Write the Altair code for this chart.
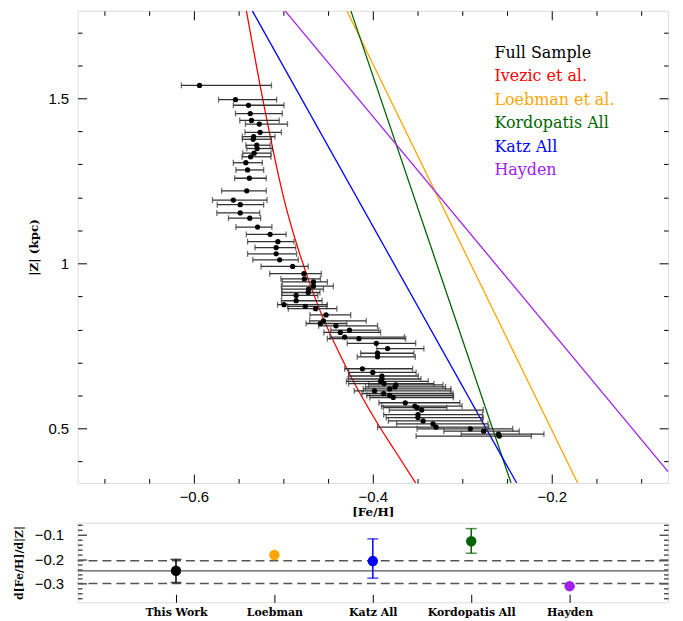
import altair as alt
import pandas as pd

# ---------------- data: Full Sample (top panel) ----------------
feh = [-0.5937, -0.5535, -0.5390, -0.5370, -0.5356, -0.5269, -0.5259, -0.5332, -0.5337, -0.5298,
       -0.5293, -0.5327, -0.5366, -0.5419, -0.5400, -0.5380, -0.5409, -0.5559, -0.5482, -0.5482,
       -0.5375, -0.5288, -0.5148, -0.5061, -0.5080, -0.5080, -0.5041, -0.4896, -0.4770, -0.4765,
       -0.4663, -0.4663, -0.4717, -0.4722, -0.4857, -0.4857, -0.4993, -0.4755, -0.4639, -0.4523,
       -0.4552, -0.4586, -0.4412, -0.4261, -0.4363, -0.4315, -0.4155, -0.3961, -0.3835, -0.3947,
       -0.3947, -0.4116, -0.4000, -0.3898, -0.3898, -0.3913, -0.3874, -0.3743, -0.3753, -0.3811,
       -0.3981, -0.3879, -0.3811, -0.3772, -0.3637, -0.3530, -0.3506, -0.3453, -0.3496, -0.3496,
       -0.3438, -0.3327, -0.3293, -0.2910, -0.2760, -0.2596, -0.2586]
z = [1.539, 1.496, 1.479, 1.454, 1.433, 1.422, 1.397, 1.384, 1.376, 1.358,
     1.348, 1.334, 1.323, 1.305, 1.283, 1.258, 1.220, 1.192, 1.178, 1.153,
     1.137, 1.110, 1.088, 1.066, 1.048, 1.029, 1.011, 0.991, 0.969, 0.953,
     0.944, 0.931, 0.922, 0.912, 0.903, 0.887, 0.875, 0.870, 0.863, 0.844,
     0.826, 0.818, 0.811, 0.798, 0.791, 0.777, 0.772, 0.758, 0.742, 0.728,
     0.717, 0.681, 0.670, 0.659, 0.650, 0.643, 0.636, 0.632, 0.626, 0.620,
     0.614, 0.606, 0.600, 0.594, 0.578, 0.568, 0.563, 0.556, 0.542, 0.533,
     0.523, 0.514, 0.504, 0.499, 0.492, 0.483, 0.477]
feh_lo = [-0.6140, -0.5724, -0.5559, -0.5535, -0.5487, -0.5424, -0.5429, -0.5458, -0.5458, -0.5419,
          -0.5409, -0.5453, -0.5462, -0.5559, -0.5530, -0.5545, -0.5690, -0.5792, -0.5739, -0.5743,
          -0.5613, -0.5530, -0.5414, -0.5400, -0.5317, -0.5400, -0.5341, -0.5249, -0.5153, -0.5027,
          -0.5012, -0.5022, -0.5017, -0.5017, -0.5017, -0.5022, -0.5065, -0.4954, -0.4944, -0.4702,
          -0.4707, -0.4746, -0.4605, -0.4470, -0.4547, -0.4479, -0.4508, -0.4286, -0.3956, -0.4136,
          -0.4174, -0.4315, -0.4271, -0.4271, -0.4276, -0.4295, -0.4271, -0.4048, -0.4082, -0.4107,
          -0.4208, -0.4121, -0.4068, -0.4034, -0.3932, -0.3903, -0.3884, -0.3816, -0.3879, -0.3850,
          -0.3826, -0.3734, -0.3947, -0.3506, -0.3206, -0.3012, -0.3516]
feh_hi = [-0.5133, -0.5075, -0.4993, -0.5012, -0.5046, -0.4954, -0.5022, -0.5094, -0.5133, -0.5148,
          -0.5123, -0.5138, -0.5138, -0.5235, -0.5220, -0.5191, -0.5191, -0.5182, -0.5220, -0.5264,
          -0.5254, -0.5128, -0.4969, -0.4881, -0.4862, -0.4852, -0.4833, -0.4722, -0.4576, -0.4586,
          -0.4508, -0.4441, -0.4552, -0.4591, -0.4615, -0.4567, -0.4508, -0.4518, -0.4402, -0.4247,
          -0.4073, -0.4291, -0.3947, -0.3932, -0.3913, -0.3647, -0.3632, -0.3521, -0.3429, -0.3540,
          -0.3525, -0.3555, -0.3516, -0.3492, -0.3462, -0.3380, -0.3317, -0.3216, -0.3186, -0.3128,
          -0.3128, -0.3104, -0.3099, -0.3099, -0.3027, -0.3002, -0.3172, -0.2765, -0.2775, -0.2765,
          -0.2775, -0.2712, -0.2702, -0.2436, -0.2363, -0.2087, -0.2228]

# ---------------- model relations (top panel) ----------------
ivezic_z = [1.765, 1.486, 1.185, 1.034, 0.8835, 0.703, 0.513, 0.4334, 0.335]
ivezic_feh = [-0.5413, -0.5222, -0.4984, -0.4823, -0.4629, -0.4330, -0.3942, -0.3754, -0.3521]
loebman_z = [1.765, 0.335]
loebman_feh = [-0.4290, -0.171]
kordopatis_z = [1.765, 0.335]
kordopatis_feh = [-0.4245, -0.2455]
katz_z = [1.765, 0.335]
katz_feh = [-0.5347, -0.2392]
hayden_z = [1.765, 0.3695]
hayden_feh = [-0.4980, -0.070]

legend_labels = ["Full Sample", "Ivezic et al.", "Loebman et al.", "Kordopatis All", "Katz All", "Hayden"]
legend_colors = ["#000000", "#FF0000", "#FFA500", "#006400", "#0000FF", "#A020F0"]

# ---------------- gradients (bottom panel) ----------------
grad_names = ["This Work", "Loebman", "Katz All", "Kordopatis All", "Hayden"]
grad_val = [-0.247, -0.182, -0.207, -0.126, -0.310]
grad_lo = [-0.295, None, -0.277, -0.175, None]
grad_hi = [-0.200, None, -0.116, -0.074, None]
grad_colors = ["#000000", "#FFA500", "#0000FF", "#006400", "#A020F0"]
mean_grad = [-0.247]
band_grad = [-0.206, -0.299]

# tick values
x_major = [-0.6, -0.4, -0.2]
x_all = [-0.7, -0.65, -0.6, -0.55, -0.5, -0.45, -0.4, -0.35, -0.3, -0.25, -0.2, -0.15, -0.1]
y_major = [0.5, 1.0, 1.5]
y_all = [0.4, 0.5, 0.6, 0.7, 0.8, 0.9, 1.0, 1.1, 1.2, 1.3, 1.4, 1.5, 1.6, 1.7]
yb_major = [-0.1, -0.2, -0.3]
yb_all = [-0.06, -0.08, -0.1, -0.12, -0.14, -0.16, -0.18, -0.2, -0.22, -0.24, -0.26, -0.28,
          -0.3, -0.32, -0.34, -0.36]

# ---------------- tables ----------------
pts = pd.DataFrame({"feh": feh, "z": z, "lo": feh_lo, "hi": feh_hi})

rows = []
for name, zz, ff in [("Ivezic et al.", ivezic_z, ivezic_feh), ("Loebman et al.", loebman_z, loebman_feh),
                     ("Kordopatis All", kordopatis_z, kordopatis_feh), ("Katz All", katz_z, katz_feh),
                     ("Hayden", hayden_z, hayden_feh)]:
    for i, (a, b) in enumerate(zip(zz, ff)):
        rows.append({"model": name, "z": a, "feh": b, "i": i})
lines = pd.DataFrame(rows)

leg_x = -0.264
leg_y0 = 1.638
leg_dy = 0.0713
leg = pd.DataFrame({"label": legend_labels,
                    "x": [leg_x] * len(legend_labels),
                    "y": [leg_y0 - k * leg_dy for k in range(len(legend_labels))]})

grad = pd.DataFrame({"name": grad_names, "v": grad_val, "lo": grad_lo, "hi": grad_hi})
grad_err = grad.dropna()

W, H = 594, 475
Hb = 80

xs = alt.Scale(domain=[-0.73, -0.07], nice=False, zero=False)
ys = alt.Scale(domain=[0.335, 1.765], nice=False, zero=False)
cs = alt.Scale(domain=legend_labels, range=legend_colors)

LABEL_FONT = "Liberation Sans"
TITLE_FONT = "DejaVu Serif"

cond_x = {"condition": {"test": "abs(datum.value*5 - round(datum.value*5)) < 0.000001", "value": 9}, "value": 4.5}
cond_y = {"condition": {"test": "abs(datum.value*2 - round(datum.value*2)) < 0.000001", "value": 9}, "value": 4.5}
cond_yb = {"condition": {"test": "abs(datum.value*10 - round(datum.value*10)) < 0.000001", "value": 9}, "value": 4.5}


def tick_axis(orient, offset, values, size):
    return alt.Axis(orient=orient, offset=offset, values=values, labels=False, domain=False,
                    grid=False, title=None, tickSize=size, tickColor="black", tickWidth=1)


main_x = alt.Axis(orient="bottom", values=x_major, format="~g", ticks=False, domain=False, grid=False,
                  labelFont=LABEL_FONT, labelFontSize=15, labelPadding=7, labelColor="black",
                  title="[Fe/H]", titleFont=TITLE_FONT, titleFontSize=12, titleFontWeight="bold",
                  titlePadding=2, titleColor="black")
main_y = alt.Axis(orient="left", values=y_major, format="~g", ticks=False, domain=False, grid=False,
                  labelFont=LABEL_FONT, labelFontSize=15, labelPadding=9, labelColor="black",
                  title="|Z| (kpc)", titleFont=TITLE_FONT, titleFontSize=12, titleFontWeight="bold",
                  titlePadding=7, titleColor="black")

model_lines = alt.Chart(lines).mark_line(strokeWidth=1.3, clip=True, interpolate="monotone").encode(
    x=alt.X("feh:Q", scale=xs, axis=main_x),
    y=alt.Y("z:Q", scale=ys, axis=main_y),
    color=alt.Color("model:N", scale=cs, legend=None),
    order=alt.Order("i:Q"),
    detail="model:N",
)

err = alt.Chart(pts).mark_rule(color="#333333", strokeWidth=1.3).encode(
    x=alt.X("lo:Q", scale=xs, axis=None),
    x2="hi:Q",
    y=alt.Y("z:Q", scale=ys, axis=None),
)
cap_lo = alt.Chart(pts).mark_tick(orient="vertical", size=6, thickness=1.3, color="#333333").encode(
    x=alt.X("lo:Q", scale=xs, axis=None),
    y=alt.Y("z:Q", scale=ys, axis=None),
)
cap_hi = alt.Chart(pts).mark_tick(orient="vertical", size=6, thickness=1.3, color="#333333").encode(
    x=alt.X("hi:Q", scale=xs, axis=None),
    y=alt.Y("z:Q", scale=ys, axis=None),
)
dots = alt.Chart(pts).mark_circle(size=28, color="black", opacity=1).encode(
    x=alt.X("feh:Q", scale=xs, axis=None),
    y=alt.Y("z:Q", scale=ys, axis=None),
)
legend_text = alt.Chart(leg).mark_text(align="left", baseline="middle", font=TITLE_FONT, fontSize=16).encode(
    x=alt.X("x:Q", scale=xs, axis=None),
    y=alt.Y("y:Q", scale=ys, axis=None),
    color=alt.Color("label:N", scale=cs, legend=None),
    text="label:N",
)
ticks_a = alt.Chart(pts).mark_point(opacity=0).encode(
    x=alt.X("feh:Q", scale=xs, axis=tick_axis("top", -H, x_all, cond_x)),
    y=alt.Y("z:Q", scale=ys, axis=tick_axis("right", -W, y_all, cond_y)),
)
ticks_b = alt.Chart(pts).mark_point(opacity=0).encode(
    x=alt.X("feh:Q", scale=xs, axis=tick_axis("bottom", -H, x_all, cond_x)),
    y=alt.Y("z:Q", scale=ys, axis=tick_axis("left", -W, y_all, cond_y)),
)

top = alt.layer(model_lines, err, cap_lo, cap_hi, dots, legend_text, ticks_a, ticks_b).resolve_axis(
    x="independent", y="independent").properties(width=W, height=H)

# ---------------- bottom panel ----------------
yb = alt.Scale(domain=[-0.376, -0.05], nice=False, zero=False)
xb = alt.Scale(type="point", domain=grad_names, padding=1)
gc = alt.Scale(domain=grad_names, range=grad_colors)

main_xb = alt.Axis(orient="bottom", ticks=False, domain=False, grid=False, labelAngle=0,
                   labelFont=TITLE_FONT, labelFontSize=11, labelFontWeight="bold", labelPadding=4,
                   labelColor="black", title=None)
main_yb = alt.Axis(orient="left", values=yb_major, format="~g", ticks=False, domain=False, grid=False,
                   labelFont=LABEL_FONT, labelFontSize=15, labelPadding=14, labelColor="black",
                   title="d[Fe/H]/d|Z|", titleFont=TITLE_FONT, titleFontSize=11, titleFontWeight="bold",
                   titlePadding=10, titleColor="black")

mean_df = pd.DataFrame({"v": mean_grad})
band_df = pd.DataFrame({"v": band_grad})

g_points = alt.Chart(grad).mark_circle(size=110, opacity=1).encode(
    x=alt.X("name:N", scale=xb, axis=main_xb, sort=grad_names),
    y=alt.Y("v:Q", scale=yb, axis=main_yb),
    color=alt.Color("name:N", scale=gc, legend=None),
)
mean_rule = alt.Chart(mean_df).mark_rule(color="#555555", strokeWidth=1.2).encode(
    y=alt.Y("v:Q", scale=yb, axis=None))
band_rule = alt.Chart(band_df).mark_rule(color="#555555", strokeWidth=1.4, strokeDash=[9, 5]).encode(
    y=alt.Y("v:Q", scale=yb, axis=None))
g_err = alt.Chart(grad_err).mark_rule(strokeWidth=1.5).encode(
    x=alt.X("name:N", scale=xb, axis=None, sort=grad_names),
    y=alt.Y("lo:Q", scale=yb, axis=None),
    y2="hi:Q",
    color=alt.Color("name:N", scale=gc, legend=None),
)
g_cap_lo = alt.Chart(grad_err).mark_tick(orient="horizontal", size=11, thickness=1.5).encode(
    x=alt.X("name:N", scale=xb, axis=None, sort=grad_names),
    y=alt.Y("lo:Q", scale=yb, axis=None),
    color=alt.Color("name:N", scale=gc, legend=None),
)
g_cap_hi = alt.Chart(grad_err).mark_tick(orient="horizontal", size=11, thickness=1.5).encode(
    x=alt.X("name:N", scale=xb, axis=None, sort=grad_names),
    y=alt.Y("hi:Q", scale=yb, axis=None),
    color=alt.Color("name:N", scale=gc, legend=None),
)
g_ticks_a = alt.Chart(grad).mark_point(opacity=0).encode(
    x=alt.X("name:N", scale=xb, sort=grad_names, axis=tick_axis("top", -Hb, grad_names, 8)),
    y=alt.Y("v:Q", scale=yb, axis=tick_axis("right", -W, yb_all, cond_yb)),
)
g_ticks_b = alt.Chart(grad).mark_point(opacity=0).encode(
    x=alt.X("name:N", scale=xb, sort=grad_names, axis=None),
    y=alt.Y("v:Q", scale=yb, axis=tick_axis("left", -W, yb_all, cond_yb)),
)

bottom = alt.layer(mean_rule, band_rule, g_err, g_cap_lo, g_cap_hi, g_points, g_ticks_a, g_ticks_b).resolve_axis(
    x="independent", y="independent").properties(width=W, height=Hb)

chart = alt.vconcat(top, bottom, spacing=40, bounds="flush").resolve_scale(
    color="independent"
).properties(
    padding={"left": 4, "top": 0, "right": 5, "bottom": 5}
).configure_view(stroke="black", strokeWidth=1).configure(background="white")

chart.save("out.html", embed_options={"renderer": "svg", "actions": False})
